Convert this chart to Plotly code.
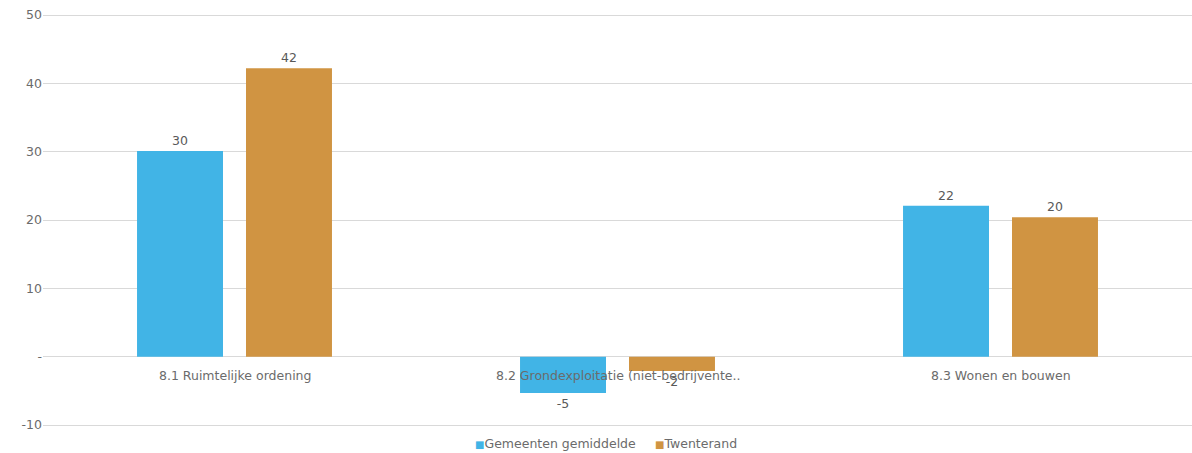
import plotly.graph_objects as go

categories = ["8.1 Ruimtelijke ordening", "8.2 Grondexploitatie (niet-bedrijvente..", "8.3 Wonen en bouwen"]
series_names = ["Gemeenten gemiddelde", "Twenterand"]
gemeenten = [30.1, -5.3, 22.1]
twenterand = [42.2, -2.1, 20.4]
gem_labels = ["30", "-5", "22"]
twe_labels = ["42", "-2", "20"]
tick_vals = [-10, 0, 10, 20, 30, 40, 50]
tick_text = ["-10", "-", "10", "20", "30", "40", "50"]

colors = ["#41B4E6", "#D09442"]
font_family = "DejaVu Sans, Verdana, sans-serif"
grey = "#595959"
label_grey = "#6b6b6b"

W, H = 1192, 453
M_T, M_B = 12, 25
plot_h = H - M_T - M_B
# extend axis range so the 50 and -10 gridlines sit inside the plot area
pad = 3 * 60 / (425 - 15)

fig = go.Figure()
for name, vals, labels, col in zip(series_names, [gemeenten, twenterand], [gem_labels, twe_labels], colors):
    fig.add_trace(go.Bar(x=categories, y=vals, name=name,
                         marker=dict(color=col, line=dict(width=0)),
                         text=labels, textposition="outside", cliponaxis=False,
                         showlegend=False,
                         textfont=dict(size=12.5, color=grey, family=font_family)))

for c in categories:
    fig.add_annotation(x=c, y=0, xref="x", yref="y", text=c, showarrow=False,
                       yanchor="top", yshift=-9,
                       font=dict(size=12.5, color=label_grey, family=font_family))

# legend entries (built from series names/colours)
legend_x = [0.3745, 0.5305]
for name, col, lx in zip(series_names, colors, legend_x):
    fig.add_annotation(x=lx, y=-(443 - (H - M_B)) / plot_h, xref="paper", yref="paper",
                       text=f'<span style="color:{col};font-size:10px">■</span>{name}',
                       showarrow=False, xanchor="left", yanchor="middle",
                       font=dict(size=12.5, color=label_grey, family=font_family))

fig.update_layout(
    width=W, height=H,
    margin=dict(l=43, r=0, t=M_T, b=M_B),
    plot_bgcolor="white", paper_bgcolor="white",
    barmode="group", bargap=0.431, bargroupgap=0.211,
    font=dict(family=font_family, size=12, color=grey),
    showlegend=False,
)

fig.update_xaxes(showticklabels=False, showgrid=False, zeroline=False, showline=False)
fig.update_yaxes(range=[-10 - pad, 50 + pad], tickvals=tick_vals, ticktext=tick_text,
                 showgrid=True, gridcolor="#D9D9D9", gridwidth=1,
                 zeroline=True, zerolinecolor="#D9D9D9", zerolinewidth=1,
                 showline=False, ticks="", ticklen=0, automargin=False,
                 tickfont=dict(size=12.5, color=label_grey, family=font_family))

fig.write_html("out.html")
